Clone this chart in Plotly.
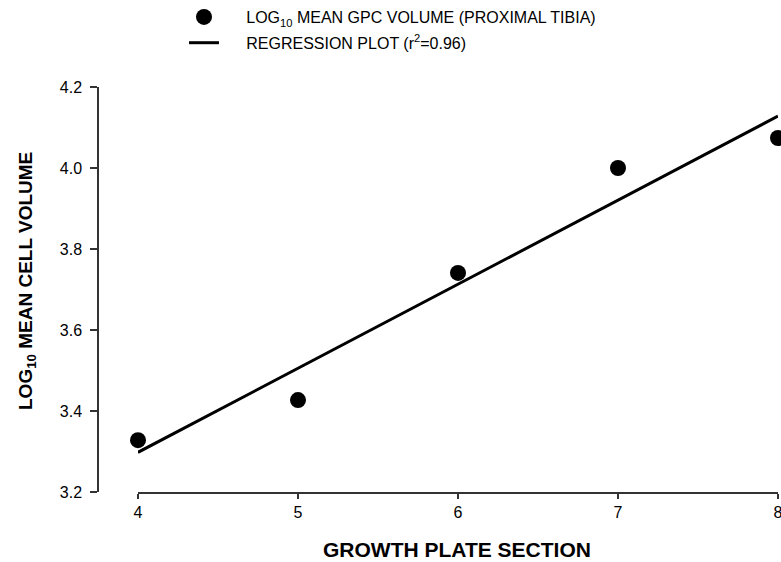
import plotly.graph_objects as go

W, H = 781, 562

sections = [4, 5, 6, 7, 8]
log_volume = [3.328, 3.427, 3.741, 4.000, 4.074]

reg_x = [4, 8]
reg_y = [3.298, 4.128]

x_ticks = [4, 5, 6, 7, 8]
y_ticks = [3.2, 3.4, 3.6, 3.8, 4.0, 4.2]
y_tick_text = ["3.2", "3.4", "3.6", "3.8", "4.0", "4.2"]

FONT = "Liberation Sans, Arial, sans-serif"
PAD = "&nbsp;" * 5

fig = go.Figure()
fig.add_trace(go.Scatter(
    x=sections, y=log_volume, mode="markers",
    marker=dict(size=16, color="black"),
    name=PAD + "LOG<sub>10</sub> MEAN GPC VOLUME (PROXIMAL TIBIA)",
    legendgroup="a",
    cliponaxis=False,
))
fig.add_trace(go.Scatter(
    x=reg_x, y=reg_y, mode="lines",
    line=dict(color="black", width=3),
    name=PAD + "REGRESSION PLOT (r<sup>2</sup>=0.96)",
    legendgroup="b",
    cliponaxis=False,
))

fig.update_layout(
    width=W, height=H,
    margin=dict(l=0, r=0, t=0, b=0, autoexpand=False),
    paper_bgcolor="white", plot_bgcolor="white",
    font=dict(family=FONT, size=16, color="black"),
    showlegend=True,
    legend=dict(
        x=184 / W, y=1, xanchor="left", yanchor="top",
        font=dict(family=FONT, size=16, color="black"),
        itemwidth=30, tracegroupgap=2,
        bgcolor="rgba(0,0,0,0)",
    ),
    xaxis=dict(
        domain=[138 / W, 778 / W],
        range=[4, 8],
        anchor="free", position=1 - 493 / H,
        automargin=False,
        showline=True, linecolor="#333", linewidth=1.5,
        ticks="outside", ticklen=5, tickcolor="#333", tickwidth=1.5,
        tickvals=x_ticks, ticktext=[str(v) for v in x_ticks],
        tickfont=dict(size=16),
        ticklabeloverflow="allow",
        showgrid=False, zeroline=False,
    ),
    yaxis=dict(
        domain=[1 - 492 / H, 1 - 87 / H],
        range=[3.2, 4.2],
        anchor="free", position=98 / W,
        automargin=False,
        showline=True, linecolor="#333", linewidth=1.5,
        ticks="outside", ticklen=7, tickcolor="#333", tickwidth=1.5,
        tickvals=y_ticks, ticktext=y_tick_text,
        tickfont=dict(size=16),
        ticklabelstandoff=5,
        ticklabeloverflow="allow",
        showgrid=False, zeroline=False,
    ),
    annotations=[
        dict(text="<b>GROWTH PLATE SECTION</b>", xref="paper", yref="paper",
             x=457 / W, y=1 - 549 / H, xanchor="center", yanchor="middle",
             showarrow=False, font=dict(size=21)),
        dict(text="<b>LOG<sub>10</sub> MEAN CELL VOLUME</b>", xref="paper", yref="paper",
             x=27 / W, y=1 - 281 / H, xanchor="center", yanchor="middle",
             textangle=-90, showarrow=False, font=dict(size=19)),
    ],
)

fig.write_html("out.html")
